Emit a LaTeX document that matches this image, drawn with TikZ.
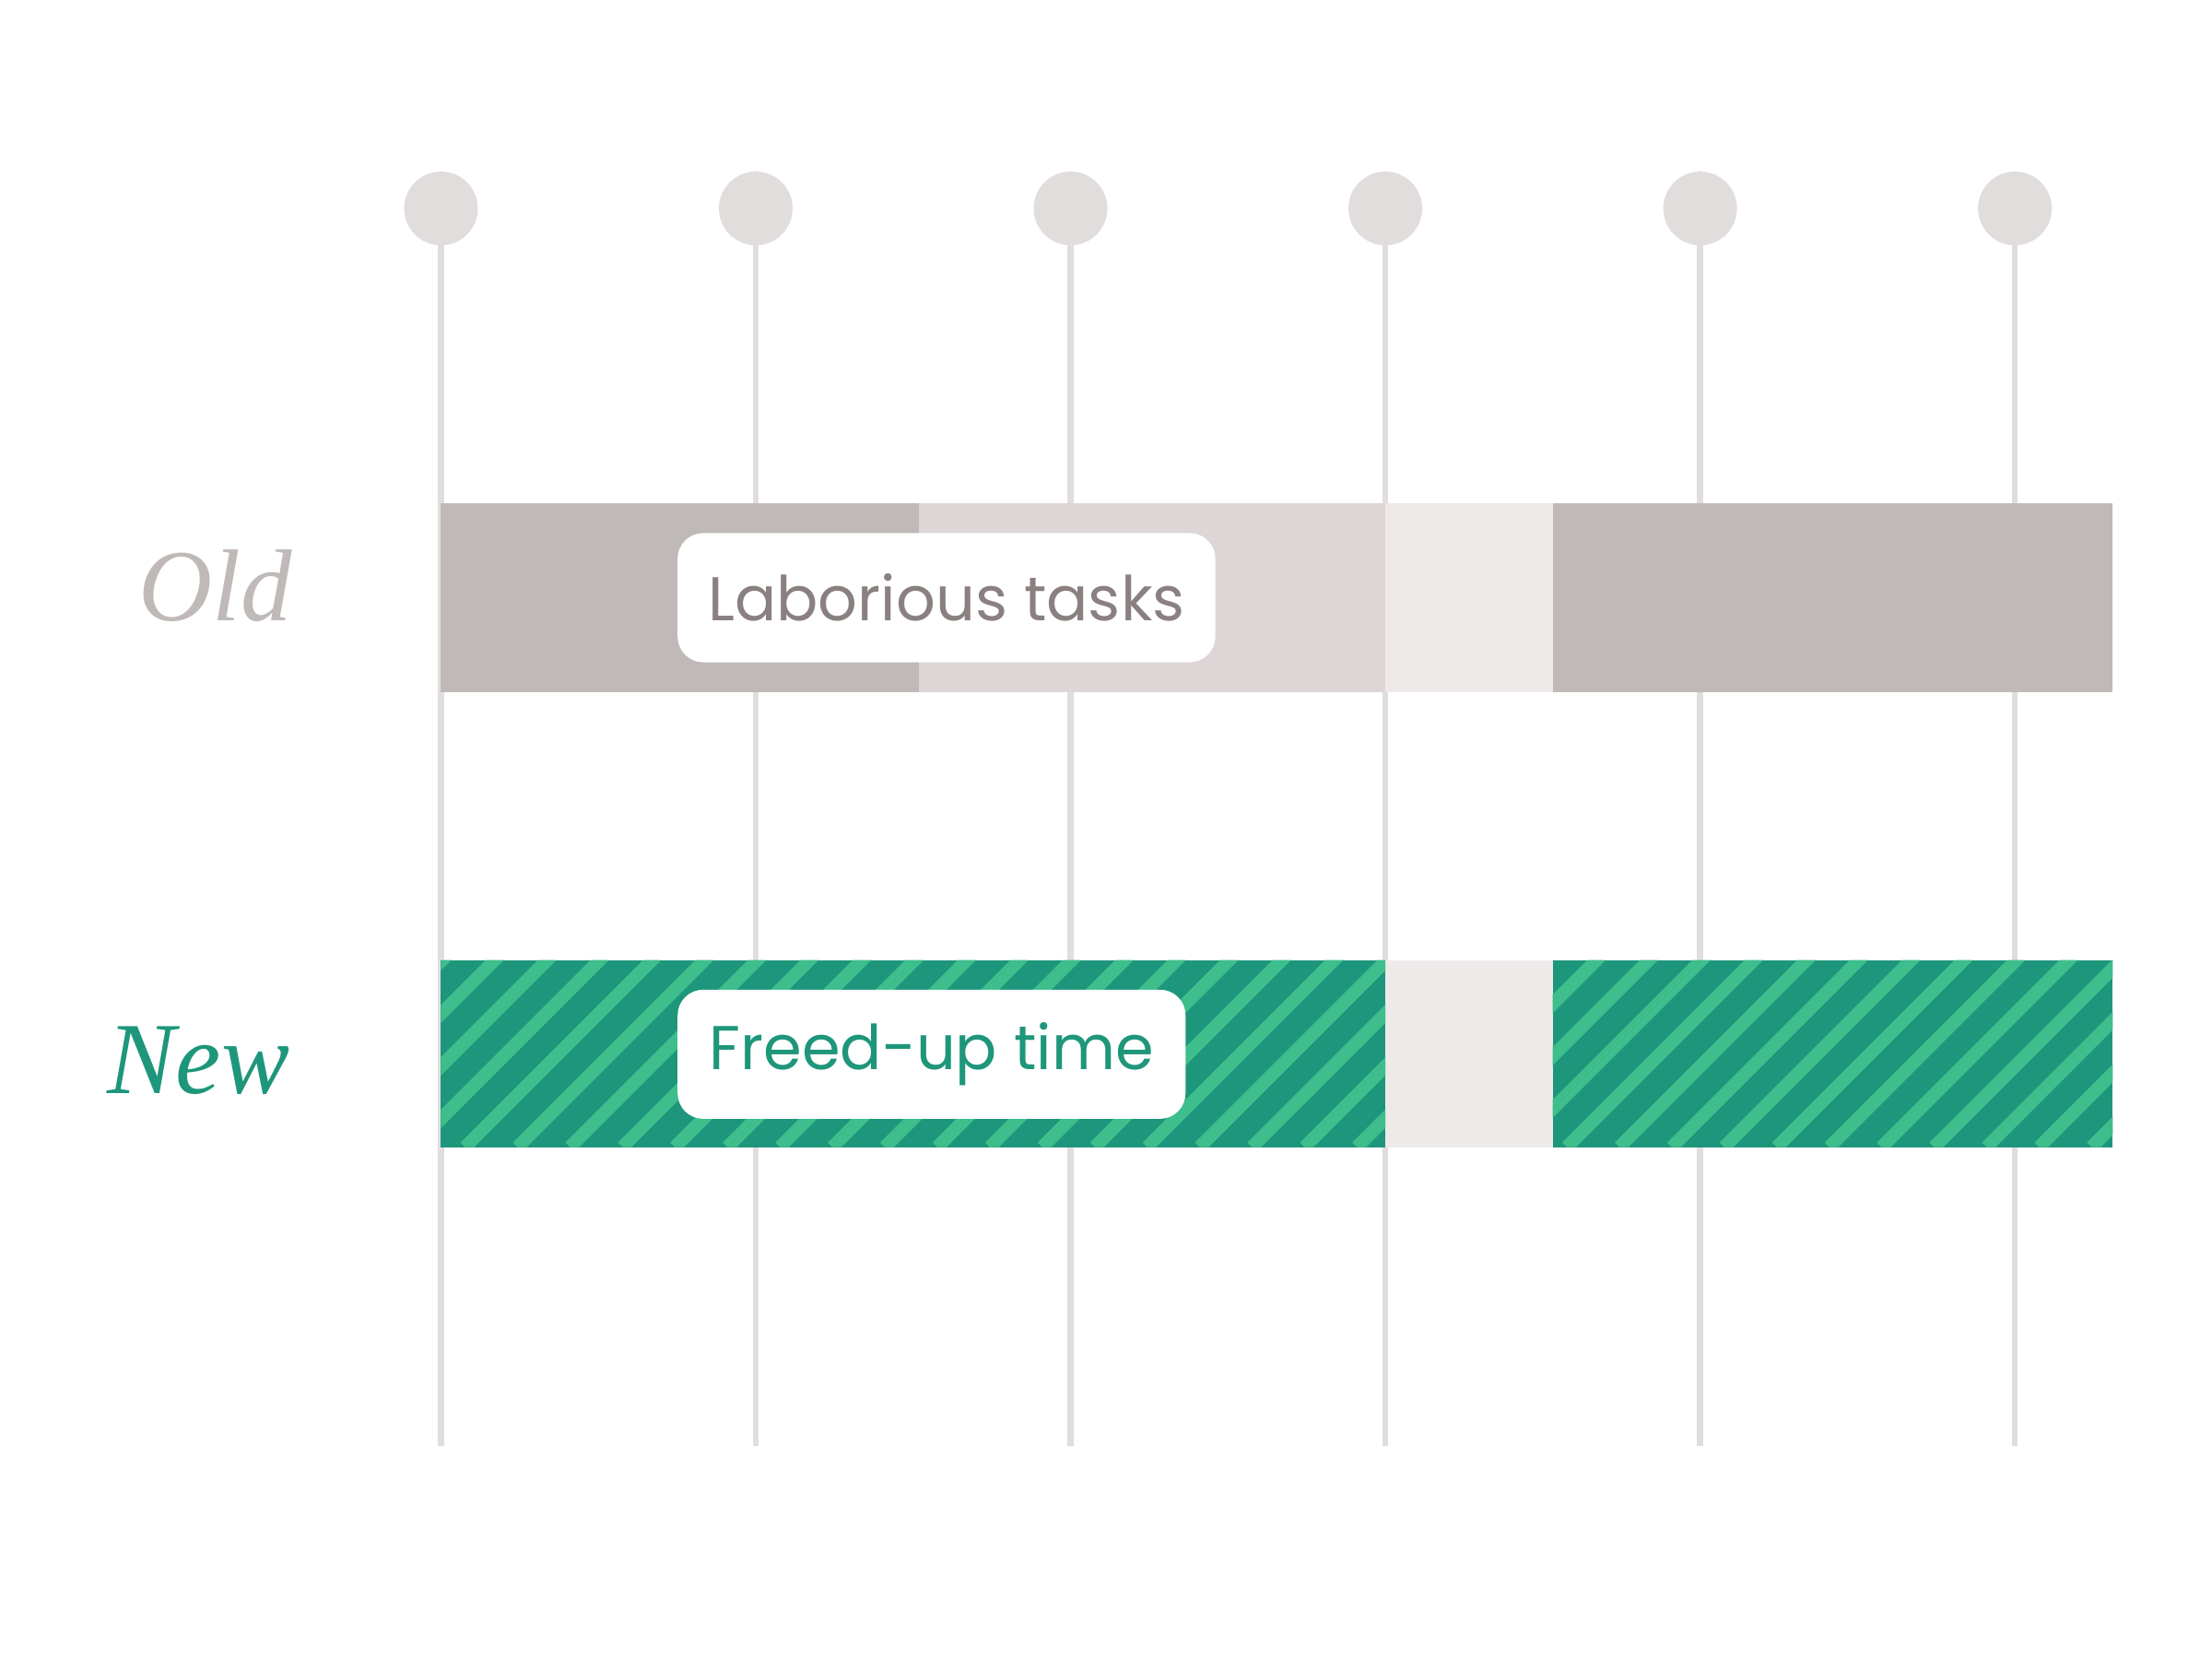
\documentclass[tikz,border=0pt]{standalone}
\usepackage{fontspec}
\setmainfont{Poppins}
\newfontfamily\labfont{Liberation Serif}
\definecolor{tick}{HTML}{E2DDDD}
\definecolor{darkgrey}{HTML}{BFB9B8}
\definecolor{midgrey}{HTML}{DED6D6}
\definecolor{gapgrey}{HTML}{EDEAE9}
\definecolor{textgrey}{HTML}{8A8080}
\definecolor{teal}{HTML}{1E967B}
\definecolor{stripe}{HTML}{3DBE8C}
\tikzset{
  pin/.style={draw=tick, line width=1.2pt},
  knob/.style={circle, fill=tick, minimum size=0.52cm, inner sep=0pt},
  tag/.style={fill=white, rounded corners=0.18cm, inner sep=0pt, font=\fontsize{12.4}{15}\selectfont},
  rowlabel/.style={font=\labfont\itshape\fontsize{20.5}{24}\selectfont}
}
\begin{document}
\begin{tikzpicture}[x=0.01cm, y=-0.01cm]
    \useasboundingbox (0,0) rectangle (1560,1170);
    % time ticks
    \foreach \x [count=\i] in {311,533,755,977,1199,1421} {
        \node [knob] (k\i) at (\x,147) {};
        \coordinate (e\i) at (\x,1020);
        \draw [pin] (k\i.center) -- (e\i);
    }
    % old bar
    \fill [darkgrey] (311,355) rectangle (648,488);
    \fill [midgrey] (648,355) rectangle (977,488);
    \fill [gapgrey] (977,355) rectangle (1095,488);
    \fill [darkgrey] (1095,355) rectangle (1490,488);
    % new bar
    \fill [teal] (311,677) rectangle (977,809);
    \fill [gapgrey] (977,677) rectangle (1095,809);
    \fill [teal] (1095,677) rectangle (1490,809);
    \begin{scope}
        \clip (311,677) rectangle (977,809) (1095,677) rectangle (1490,809);
        \foreach \k in {0,37,...,1300}
            \draw [stripe, line width=2.6pt] (180+\k,809) -- ++(140,-140);
    \end{scope}
    % labels
    \node [tag, minimum width=3.79cm, minimum height=0.91cm, text=textgrey] (old) at (667.5,421.5) {Laborious tasks};
    \node [tag, minimum width=3.58cm, minimum height=0.91cm, text=teal] (new) at (657,743.5) {Freed-up time};
    \node [rowlabel, text=darkgrey] (oldlab) at (152,413) {Old};
    \node [rowlabel, text=teal] (newlab) at (140,748) {New};
\end{tikzpicture}
\end{document}
